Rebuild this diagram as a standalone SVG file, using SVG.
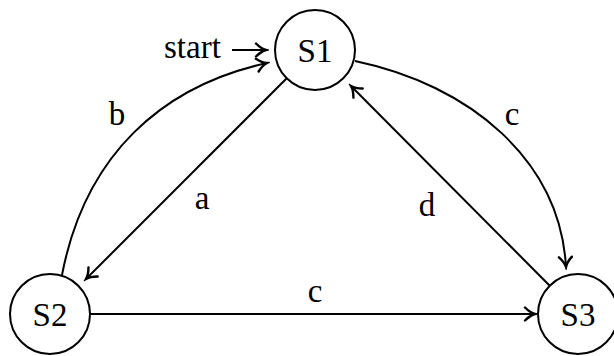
<svg xmlns="http://www.w3.org/2000/svg" width="614" height="356" viewBox="0 0 614 356">
<style>
  .node circle { fill: #fff; stroke: #000; stroke-width: 2; }
  text { font-family: "Liberation Serif", "Times New Roman", serif; font-size: 33px; fill: #000; }
  .nl { text-anchor: middle; }
  .edge { fill: none; stroke: #000; stroke-width: 2; marker-end: url(#arr); }
</style>
<defs>
  <marker id="arr" markerUnits="userSpaceOnUse" markerWidth="16" markerHeight="16" viewBox="-12 -8 14 16" refX="0" refY="0" orient="auto">
    <path d="M -10,-6.5 C -6.5,-3 -3,-0.8 0,0 C -3,0.8 -6.5,3 -10,6.5" fill="none" stroke="#000" stroke-width="2.4" stroke-linecap="round"/>
  </marker>
</defs>
<g id="connectors">
  <path id="e-start" class="edge" d="M 232 50 L 266 50"/>
  <path id="e-b" class="edge" d="M 62 275 C 85 155 162 86 267 63"/>
  <path id="e-a" class="edge" d="M 287 78 L 86 279"/>
  <path id="e-c1" class="edge" d="M 355 61 C 470 85 560 160 566 267"/>
  <path id="e-d" class="edge" d="M 550 286 L 351 86"/>
  <path id="e-c2" class="edge" d="M 90 314 L 535 314"/>
</g>
<g id="labels">
  <text x="164" y="58">start</text>
  <text class="nl" x="117" y="125">b</text>
  <text class="nl" x="202" y="209">a</text>
  <text class="nl" x="512" y="125">c</text>
  <text class="nl" x="427" y="216">d</text>
  <text class="nl" x="315" y="302">c</text>
</g>
<g id="S1" class="node">
  <circle cx="315" cy="50" r="40"/>
  <text class="nl" x="315" y="62">S1</text>
</g>
<g id="S2" class="node">
  <circle cx="50" cy="314" r="40"/>
  <text class="nl" x="50" y="326">S2</text>
</g>
<g id="S3" class="node">
  <circle cx="578" cy="314" r="40"/>
  <text class="nl" x="578" y="326">S3</text>
</g>
</svg>
